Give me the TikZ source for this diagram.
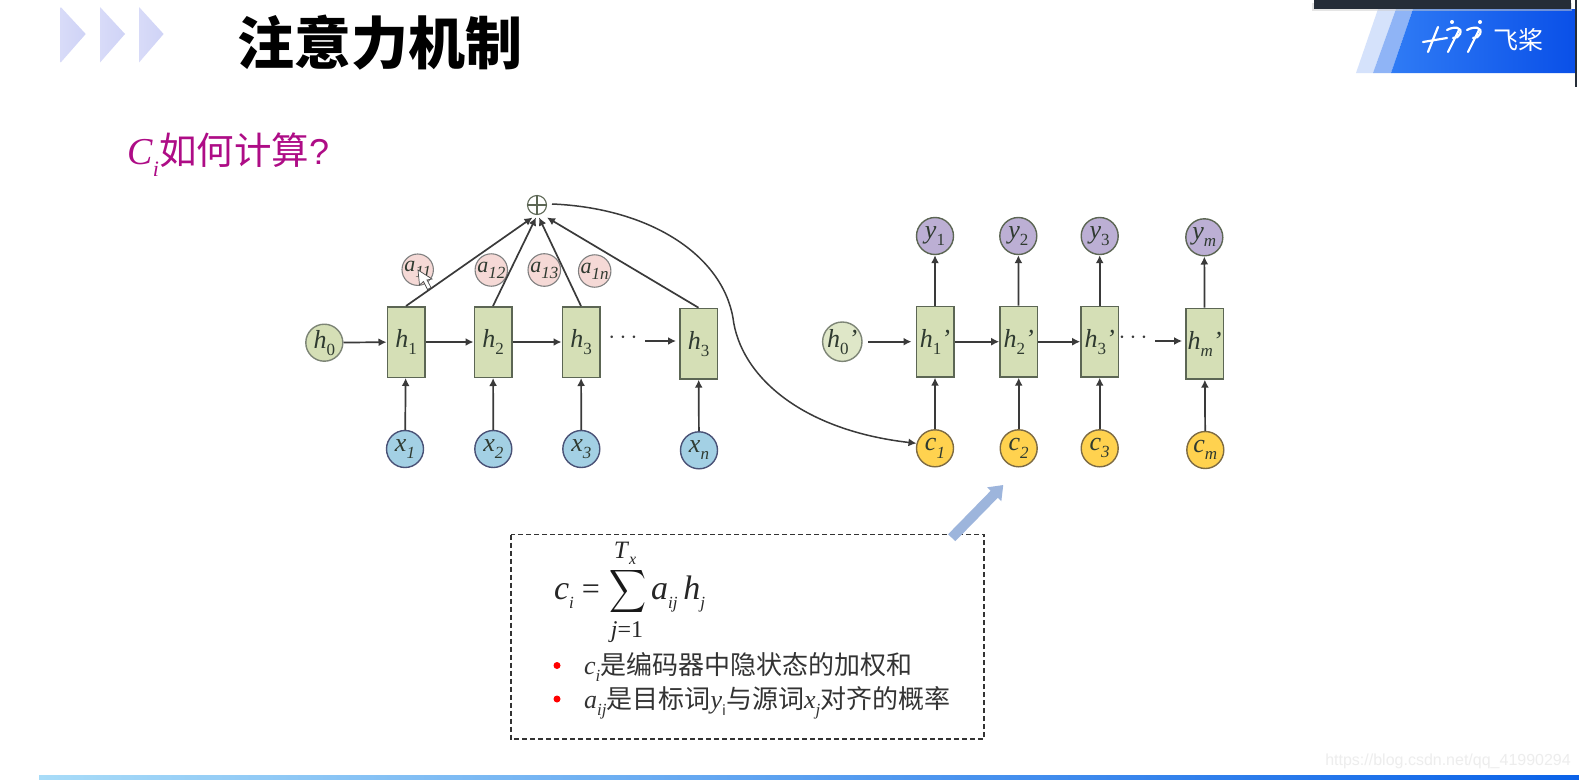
\documentclass[tikz,border=0pt]{standalone}
\usepackage{fontspec}
\usepackage{graphicx}
\setmainfont{Liberation Serif}
\newfontfamily\cjk{Noto Sans CJK SC}
\newfontfamily\cjkb{Noto Sans CJK SC Black}
\newfontfamily\wm{Liberation Sans}
\usetikzlibrary{arrows.meta,shapes.geometric}
\definecolor{boxfill}{HTML}{D5DFB6}
\definecolor{boxline}{HTML}{5C6654}
\definecolor{xfill}{HTML}{A3D0E4}
\definecolor{afill}{HTML}{F5D9D6}
\definecolor{yfill}{HTML}{BCAFD4}
\definecolor{cfill}{HTML}{FFD24F}
\definecolor{conn}{HTML}{3A3A3A}
\definecolor{lab}{HTML}{2F3A30}
\definecolor{magen}{HTML}{AE0C86}
\definecolor{chevl}{HTML}{D8DBF8}
\definecolor{chevr}{HTML}{CFD3F6}
\definecolor{bandl}{HTML}{D5E2FB}
\definecolor{bandm}{HTML}{8FB4F6}
\definecolor{logol}{HTML}{2F7BF5}
\definecolor{logor}{HTML}{0A50E8}
\definecolor{darkbox}{HTML}{252D38}
\definecolor{barl}{HTML}{A8DCF8}
\definecolor{barr}{HTML}{0A62E8}
\definecolor{steel}{HTML}{9DB5DC}
\newcommand{\fsz}[1]{\fontsize{#1}{#1}\selectfont}
\newcommand{\sbup}[2]{\textit{#1}\raisebox{-.28em}{\fsz{17}#2}}
\newcommand{\sbit}[2]{\textit{#1}\raisebox{-.28em}{\fsz{17}\textit{#2}}}
\tikzset{
  x=1pt,y=-1pt,
  cell/.style={draw=boxline,fill=boxfill,line width=1.5pt,minimum width=37.5pt,minimum height=70.5pt,inner sep=0pt,text=lab,font=\fsz{26}},
  ball/.style={circle,line width=1.4pt,minimum size=37pt,inner sep=0pt,text=lab,font=\fsz{26}},
  hball/.style={ball,draw=boxline!80,fill=boxfill},
  xball/.style={ball,draw=boxline!80!blue,fill=xfill},
  yball/.style={ball,draw=boxline,fill=yfill},
  cball/.style={ball,draw=boxline!80!orange,fill=cfill},
  aball/.style={circle,draw=gray,fill=afill,line width=1.1pt,minimum size=31pt,inner sep=0pt,text=lab,font=\fsz{22}},
  link/.style={draw=conn,line width=1.7pt,-{Latex[length=8pt,width=8pt]}},
  chev/.style={left color=chevl,right color=chevr,draw=none},
  dotsl/.style={text=conn,font=\fsz{24}},
  formula/.style={text=black!85,font=\fsz{34},inner sep=0pt},
  listtext/.style={text=black!80,font=\fsz{26},inner sep=0pt,anchor=west},
  bullet/.style={circle,fill=red,minimum size=7pt,inner sep=0pt},
}
\begin{document}
\begin{tikzpicture}
\useasboundingbox (0,0) rectangle (1579,779);
\fill[white] (0,0) rectangle (1579,779);
% bottom bar
\shade[left color=barl,right color=barr] (39,775.5) rectangle (1579,779);
% chevrons
\shade[chev] (60.7,7) -- (85.7,34) -- (60.7,62.5) -- cycle;
\shade[chev] (100,7) -- (125,34) -- (100,62.5) -- cycle;
\shade[chev] (139,7) -- (163.6,34) -- (139,62.5) -- cycle;
% title
\node[anchor=west,inner sep=0pt,font=\fsz{57}] (title) at (237,43) {\cjkb 注意力机制};
% logo
\fill[bandl] (1356,73) -- (1378,9) -- (1396,9) -- (1373,73) -- cycle;
\fill[bandm] (1373,73) -- (1396,9) -- (1413,9) -- (1391,73) -- cycle;
\shade[left color=logol,right color=logor] (1391,73) -- (1413,9) -- (1575,9) -- (1575,73) -- cycle;
\fill[black!20,opacity=.5] (1312,3) rectangle (1572,11);
\fill[darkbox] (1314,0) rectangle (1570.5,8.5);
\fill[darkbox] (1575,0) rectangle (1577,87);
\begin{scope}[draw=white,line width=2.2pt,line cap=round]
\draw (1423,42) -- (1447,38);
\draw (1428,52) -- (1438,27);
\draw (1448,52) -- (1459,30);
\draw (1447,30) .. controls (1454,26) and (1463,27) .. (1460,34) .. controls (1459,37) and (1456,38) .. (1453,38);
\draw (1468,52) -- (1479,30);
\draw (1467,30) .. controls (1474,26) and (1483,27) .. (1480,34) .. controls (1479,37) and (1476,38) .. (1473,38);
\fill[white] (1452,22) circle (2pt) (1480,22) circle (2pt);
\end{scope}
\node[text=white,font=\fsz{25},inner sep=0pt] (logo) at (1518,40) {\cjk 飞桨};
% subtitle
\node[anchor=west,inner sep=0pt,text=magen,font=\fsz{38}] (sub) at (127,155) {\textit{C}\raisebox{-.32em}{\fsz{22}\textit{i}}{\cjk\fsz{37.5}如何计算}{\wm\fsz{36}?}};
% encoder
\node[hball] (h0) at (324.3,342.7) {\sbup{h}{0}};
\node[cell] (h1) at (406,342) {\sbup{h}{1}};
\node[cell] (h2) at (493,342) {\sbup{h}{2}};
\node[cell] (h3) at (581,342) {\sbup{h}{3}};
\node[cell] (h4) at (698.5,343.7) {\sbup{h}{3}};
\node[xball] (x1) at (405,449) {\sbit{x}{1}};
\node[xball] (x2) at (493.3,449) {\sbit{x}{2}};
\node[xball] (x3) at (581.3,449) {\sbit{x}{3}};
\node[xball] (xn) at (699,450.3) {\sbit{x}{n}};
\node[aball] (a1) at (417.7,269.7) {\sbit{a}{11}};
\node[aball] (a2) at (491.3,270) {\sbit{a}{12}};
\node[aball] (a3) at (544.3,270) {\sbit{a}{13}};
\node[aball] (a4) at (594.7,271) {\sbit{a}{1n}};
\node[circle,draw=boxline,line width=1.1pt,minimum size=19pt,inner sep=0pt] (oplus) at (537,205) {};
\draw[boxline,line width=1.1pt] (oplus.north) -- (oplus.south) (oplus.west) -- (oplus.east);
\coordinate (t1) at (532.5,217.5);
\coordinate (t2) at (536,217.5);
\coordinate (t3) at (539,217.5);
\coordinate (t4) at (547,217.5);
\draw[link] (h1.north) -- (t1);
\draw[link] (h2.north) -- (t2);
\draw[link] (h3.north) -- (t3);
\draw[link] (h4.north) -- (t4);
\draw[link] (h0) -- (h1);
\draw[link] (h1) -- (h2);
\draw[link] (h2) -- (h3);
\node[dotsl] (d1) at (623,338) {$\cdots$};
\coordinate (s1) at (645,341);
\draw[link,shorten >=3pt] (s1) -- (h4.west |- s1);
\foreach \a/\b in {x1/h1,x2/h2,x3/h3,xn/h4} \draw[link] (\a) -- (\b);
% decoder
\node[hball,fill=boxfill!75!white] (g0) at (842.3,341.7) {\sbup{h}{0}\textit{’}};
\node[cell] (g1) at (935,341.7) {\sbup{h}{1}\textit{’}};
\node[cell] (g2) at (1018.7,341.7) {\sbup{h}{2}\textit{’}};
\node[cell] (g3) at (1099.7,341.7) {\sbup{h}{3}\textit{’}};
\node[cell] (gm) at (1204.6,343.7) {\sbit{h}{m}\textit{’}};
\node[yball] (y1) at (935,236) {\sbup{y}{1}};
\node[yball] (y2) at (1018.3,236) {\sbup{y}{2}};
\node[yball] (y3) at (1099.7,236) {\sbup{y}{3}};
\node[yball] (ym) at (1204.3,237.3) {\sbit{y}{m}};
\node[cball] (c1) at (935,448.3) {\sbit{c}{1}};
\node[cball] (c2) at (1018.7,448.3) {\sbit{c}{2}};
\node[cball] (c3) at (1099.7,448.3) {\sbit{c}{3}};
\node[cball] (cm) at (1205.3,450) {\sbit{c}{m}};
\foreach \a/\b in {g1/y1,g2/y2,g3/y3,gm/ym,c1/g1,c2/g2,c3/g3,cm/gm} \draw[link] (\a) -- (\b);
\draw[link] (g1) -- (g2);
\draw[link] (g2) -- (g3);
\coordinate (s2) at (868,341.7);
\draw[link,shorten >=4pt] (s2) -- (g1.west |- s2);
\node[dotsl] (d2) at (1133,338) {$\cdots$};
\coordinate (s3) at (1155,341);
\draw[link,shorten >=3pt] (s3) -- (gm.west |- s3);
% attention curve
\coordinate (cs) at (552,204);
\draw[link,line width=1.5pt] (cs) .. controls (650,208) and (722,255) .. (733,318) .. controls (740,375) and (800,430) .. (c1.165);
% cursor
\fill[white,draw=black!70,line width=.7pt] (418,270) -- (419.5,285) -- (423.5,281.5) -- (427.5,289.5) -- (431,287.5) -- (427,280) -- (432,279) -- cycle;
% dashed box
\draw[draw=black!80,line width=1.7pt,dash pattern=on 5pt off 3pt] (511,534.5) rectangle (984.3,739.3);
% block arrow
\coordinate (b0) at (951.7,537.7);
\coordinate (b1) at (1003.3,485);
\draw[-{Triangle[length=13pt,width=19pt]},line width=10pt,draw=steel,fill=steel] (b0) -- (b1);
% formula
\node[formula,anchor=base] (fc) at (564,599) {\sbit{c}{i}};
\node[formula,anchor=base,font=\fsz{32}] (feq) at (591,599) {=};
\node[inner sep=0pt,text=black!90] (fsum) at (627.5,591) {\resizebox*{37pt}{48pt}{$\displaystyle\sum$}};
\node[formula,font=\fsz{25}] (ft) at (625,553) {\textit{T}\raisebox{-.25em}{\fsz{16}\textit{x}}};
\node[formula,font=\fsz{24}] (fj) at (627,632) {\textit{j}=1};
\node[formula,anchor=base west] (fa) at (651,599) {\sbit{a}{ij}\,\sbit{h}{j}};
% list
\node[bullet] (b1x) at (557,665.5) {};
\node[bullet] (b2x) at (557,699) {};
\node[listtext] (l1) at (584,667) {\sbit{c}{i}\cjk 是编码器中隐状态的加权和};
\node[listtext] (l2) at (584,703) {\sbit{a}{ij}\cjk 是目标词\sbup{\rmfamily y}{\fsz{14}i}\cjk 与源词\sbit{\rmfamily x}{\rmfamily j}\cjk 对齐的概率};
% watermark
\node[anchor=east,inner sep=0pt,text=black!7,font=\fsz{16}] (wmk) at (1571,761) {\wm https://blog.csdn.net/qq\_41990294};
\end{tikzpicture}
\end{document}
